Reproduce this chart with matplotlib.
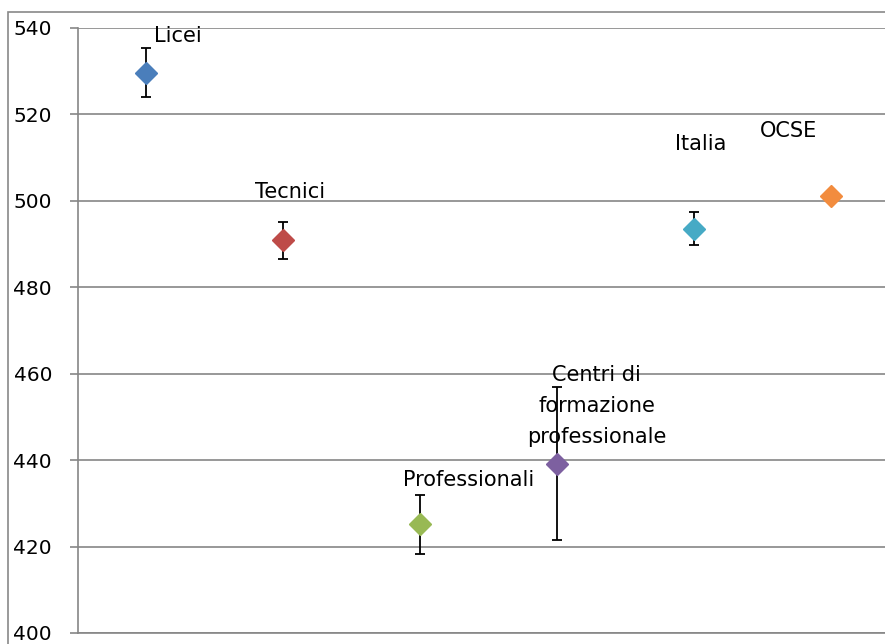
import matplotlib.pyplot as plt
from matplotlib.patches import Rectangle

# dati
categorie = ["Licei", "Tecnici", "Professionali",
             "Centri di\nformazione\nprofessionale", "Italia", "OCSE"]
posizioni = [1, 2, 3, 4, 5, 6]
punteggi = [529.6, 490.8, 425.1, 439.2, 493.5, 501.1]
errori = [5.6, 4.3, 6.9, 17.8, 3.8, None]   # OCSE senza barra d'errore
colori = ["#4A7EBB", "#BE4B48", "#98B954", "#7D60A0", "#46AAC5", "#F28C3E"]

# spostamento delle etichette (pixel) rispetto al punto
spost = [(32, 31), (7, 42), (49, 38), (40, 20.5), (7.5, 79), (-42, 59)]

plt.rcParams["font.family"] = "DejaVu Sans"
fig = plt.figure(figsize=(8.85, 6.44), dpi=100)
ax = fig.add_axes([0.0878, 0.0171, 0.928, 0.9399])

for x, y, e, c, nome, (dx, dy) in zip(posizioni, punteggi, errori, colori, categorie, spost):
    if e is not None:
        ax.errorbar(x, y, yerr=e, fmt="none", ecolor="black", elinewidth=1.3,
                    capsize=3.6, capthick=1.3, zorder=3)
    ax.plot(x, y, marker="D", markersize=11, color=c, linestyle="none", zorder=4)
    ax.annotate(nome, (x, y), xytext=(dx * 0.72, dy * 0.72), textcoords="offset points",
                ha="center", va="baseline", multialignment="center",
                fontsize=15, linespacing=1.7, zorder=5)

ax.set_xlim(0.5, 6.5)
ax.set_ylim(400, 540)
ax.set_yticks(range(400, 541, 20))
ax.set_xticks([])
ax.yaxis.grid(True, color="#868686", linewidth=1.2)
ax.set_axisbelow(True)

for s in ["top", "right"]:
    ax.spines[s].set_visible(False)
for s in ["left", "bottom"]:
    ax.spines[s].set_color("#868686")
    ax.spines[s].set_linewidth(1.2)

ax.tick_params(axis="y", direction="out", length=5.5, width=1.2, color="#868686",
               labelsize=14.5, pad=13)

# cornice esterna del grafico
fig.add_artist(Rectangle((0.0094, -0.5), 2, 0.9821 + 0.5, transform=fig.transFigure,
                         fill=False, edgecolor="#898989", linewidth=1.2))

fig.savefig("out.png", dpi=100)
